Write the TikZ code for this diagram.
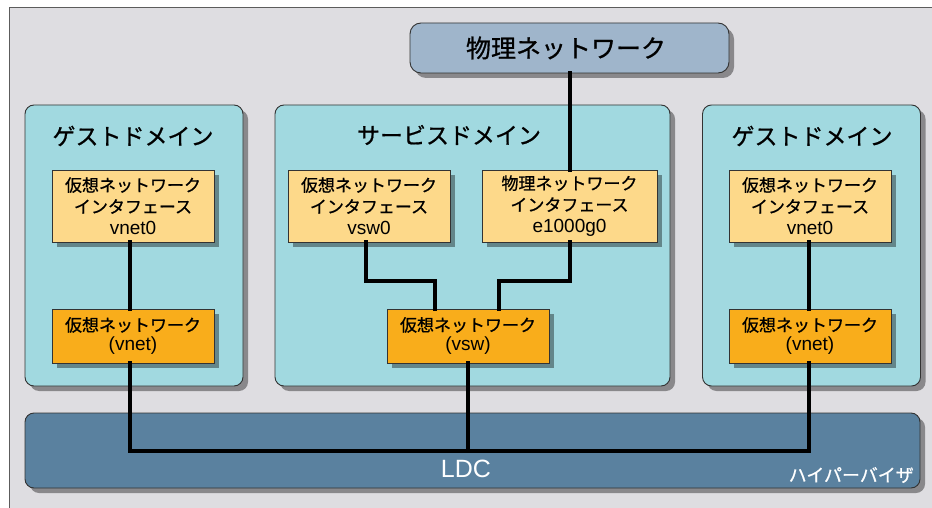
\documentclass[tikz,border=0pt]{standalone}
\usepackage{fontspec}
\setmainfont{Liberation Sans}
\newfontfamily\jp[FakeBold=0.8]{Noto Sans CJK JP}
\usetikzlibrary{shadows}
\definecolor{bgc}{HTML}{DEDDE1}
\definecolor{panelc}{HTML}{A1D9E0}
\definecolor{yelc}{HTML}{FDD98A}
\definecolor{orc}{HTML}{F9AD1B}
\definecolor{physc}{HTML}{9FB5CB}
\definecolor{ldcc}{HTML}{5A819F}
\definecolor{edgec}{HTML}{333333}
\tikzset{
  shad/.style={drop shadow={shadow xshift=5pt, shadow yshift=-5pt, fill=black, opacity=0.38}},
  panel/.style={draw=edgec, line width=0.9pt, fill=panelc, rounded corners=9pt, shad,
    minimum width=218pt, minimum height=281pt, inner sep=0pt},
  ybox/.style={draw=edgec, line width=0.8pt, fill=yelc, shad, minimum width=162pt,
    minimum height=72pt, inner sep=0pt, align=center, font=\jp\fontsize{17}{21.5}\selectfont},
  obox/.style={draw=edgec, line width=0.8pt, fill=orc, shad, minimum width=162pt,
    minimum height=54pt, inner sep=0pt, align=center, font=\jp\fontsize{17}{19.5}\selectfont},
  ttl/.style={font=\jp\fontsize{23}{26}\selectfont, inner sep=0pt},
  wire/.style={line width=4pt, black, line join=miter, line cap=rect}
}
\newcommand{\latn}[1]{{\rmfamily\fontsize{19}{20}\selectfont #1}}
\begin{document}
\begin{tikzpicture}[x=1pt, y=-1pt]
\useasboundingbox (0,0) rectangle (932,508);
\clip (0,0) rectangle (932,508);
\fill[white] (0,0) rectangle (932,508);
\draw[fill=bgc, draw=edgec!80, line width=0.8pt] (9,7) rectangle (945,520);

% physical network
\node[draw=edgec, line width=0.9pt, fill=physc, rounded corners=11pt, shad,
  minimum width=319pt, minimum height=50pt, inner sep=0pt] (phys) at (569.5,48) {};
\node[font=\jp\fontsize{25}{28}\selectfont, inner sep=0pt] (physt) at (566,48) {物理ネットワーク};

% panels
\node[panel] (gd1) at (134,245.5) {};
\node[panel, minimum width=395pt] (sd) at (472.5,245.5) {};
\node[panel] (gd2) at (811.5,245.5) {};

% LDC bar
\node[draw=edgec, line width=0.9pt, fill=ldcc, rounded corners=9pt, shad,
  minimum width=895pt, minimum height=75pt, inner sep=0pt] (ldc) at (472.5,450.5) {};

% titles
\node[ttl] (t1) at (133,136) {ゲストドメイン};
\node[ttl] (t2) at (449,135) {サービスドメイン};
\node[ttl] (t3) at (812,136) {ゲストドメイン};

% yellow boxes
\node[ybox] (y1) at (133,206) {仮想ネットワーク\\インタフェース\\\latn{vnet0}};
\node[ybox] (y2) at (369,206) {仮想ネットワーク\\インタフェース\\\latn{vsw0}};
\node[ybox, minimum width=175pt] (y3) at (569.5,206) {物理ネットワーク\\インタフェース\\\latn{e1000g0}};
\node[ybox] (y4) at (810,206) {仮想ネットワーク\\インタフェース\\\latn{vnet0}};

% orange boxes
\node[obox] (o1) at (133,336) {仮想ネットワーク\\\latn{(vnet)}};
\node[obox] (o2) at (468,336) {仮想ネットワーク\\\latn{(vsw)}};
\node[obox] (o3) at (810,336) {仮想ネットワーク\\\latn{(vnet)}};

% wires
\coordinate (bus) at (468,451);
\coordinate (jl) at (435,281);
\coordinate (jr) at (499,281);
\draw[wire] ([xshift=0.5pt]phys.south) -- ([xshift=0.5pt]y3.north);
\draw[wire] ([xshift=-3pt]y1.south) -- ([xshift=-3pt]o1.north);
\draw[wire] ([xshift=-1pt]y4.south) -- ([xshift=-1pt]o3.north);
\draw[wire] ([xshift=-3pt]y2.south) |- (jl) -- (jl |- o2.north);
\draw[wire] ([xshift=0.5pt]y3.south) |- (jr) -- (jr |- o2.north);
\draw[wire] ([xshift=-3pt]o1.south) |- (bus) -| ([xshift=-1pt]o3.south);
\draw[wire] (o2.south) -- (bus);

% labels on LDC
\node[font=\rmfamily\fontsize{25}{28}\selectfont, text=white, inner sep=0pt] (ldct) at (466,469) {LDC};
\node[font=\jp\fontsize{18}{20}\selectfont, text=white, inner sep=0pt, anchor=east] (hv) at (914,475) {ハイパーバイザ};
\end{tikzpicture}
\end{document}
